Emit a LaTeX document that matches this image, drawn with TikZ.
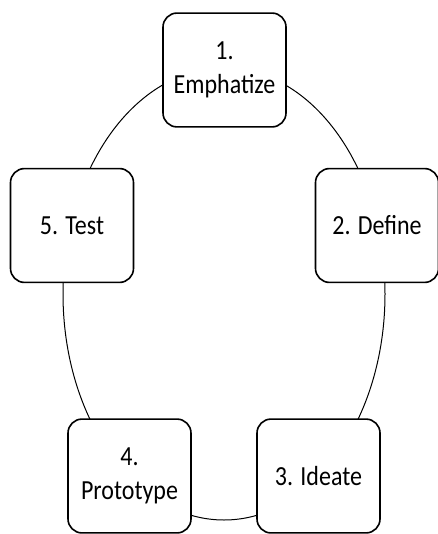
\documentclass[tikz,border=0pt]{standalone}
\usepackage{fontspec}
\setmainfont{Carlito}

\begin{document}
\begin{tikzpicture}[
  x=1pt, y=-1pt,
  line width=1,
  stage/.style={draw, line width=1.6, rounded corners=14, fill=white,
    minimum width=123, minimum height=99, yscale=1.15, align=center,
    font=\fontsize{24}{30}\selectfont},
]
\useasboundingbox (0,0) rectangle (437,534);
% der Ring hinter den Kästen
\coordinate (ring) at (224,294);
\draw (ring) ellipse [x radius=161, y radius=226];

\node[stage] (emph)   at (224.5,70)  {1.\\Emphatize};
\node[stage] (define) at (377,225.5) {2. Define};
\node[stage] (ideate) at (318.5,476) {3. Ideate};
\node[stage] (proto)  at (129.5,476) {4.\\Prototype};
\node[stage] (test)   at (72,225.5)  {5. Test};
\end{tikzpicture}
\end{document}
